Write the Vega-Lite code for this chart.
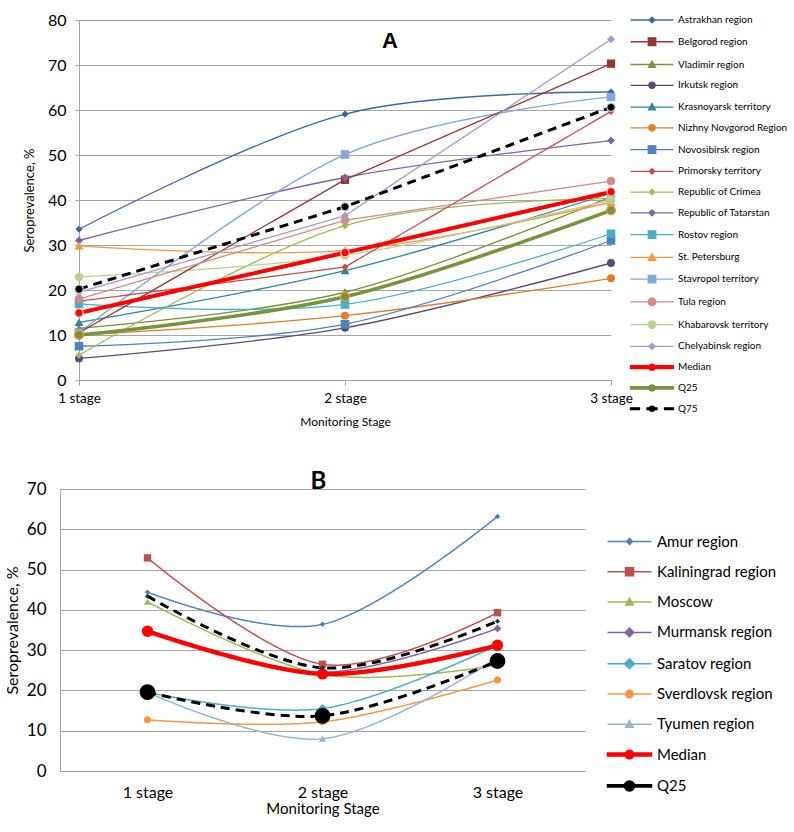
{
  "$schema": "https://vega.github.io/schema/vega-lite/v6.json",
  "background": "white",
  "padding": {"left": 4, "top": 12, "right": 5, "bottom": 5},
  "config": {
    "view": {"stroke": null},
    "font": "Lato",
    "axis": {"labelColor": "#000", "titleColor": "#000", "titleFontWeight": "normal", "domainColor": "#A6A6A6", "tickColor": "#A6A6A6", "gridColor": "#A6A6A6", "labelFont": "Lato", "titleFont": "Lato"}
  },
  "datasets": {
    "a": [
      {"series": "Astrakhan region", "stage": "1 stage", "value": 33.5},
      {"series": "Astrakhan region", "stage": "2  stage", "value": 59.1},
      {"series": "Astrakhan region", "stage": "3 stage", "value": 64.0},
      {"series": "Belgorod region", "stage": "1 stage", "value": 10.5},
      {"series": "Belgorod region", "stage": "2  stage", "value": 44.5},
      {"series": "Belgorod region", "stage": "3 stage", "value": 70.3},
      {"series": "Vladimir region", "stage": "1 stage", "value": 11.5},
      {"series": "Vladimir region", "stage": "2  stage", "value": 19.5},
      {"series": "Vladimir region", "stage": "3 stage", "value": 40.7},
      {"series": "Irkutsk region", "stage": "1 stage", "value": 4.8},
      {"series": "Irkutsk region", "stage": "2  stage", "value": 11.6},
      {"series": "Irkutsk region", "stage": "3 stage", "value": 26.0},
      {"series": "Krasnoyarsk territory", "stage": "1 stage", "value": 12.8},
      {"series": "Krasnoyarsk territory", "stage": "2  stage", "value": 24.3},
      {"series": "Krasnoyarsk territory", "stage": "3 stage", "value": 41.5},
      {"series": "Nizhny Novgorod Region", "stage": "1 stage", "value": 10.0},
      {"series": "Nizhny Novgorod Region", "stage": "2  stage", "value": 14.3},
      {"series": "Nizhny Novgorod Region", "stage": "3 stage", "value": 22.6},
      {"series": "Novosibirsk region", "stage": "1 stage", "value": 7.5},
      {"series": "Novosibirsk region", "stage": "2  stage", "value": 12.4},
      {"series": "Novosibirsk region", "stage": "3 stage", "value": 31.0},
      {"series": "Primorsky territory", "stage": "1 stage", "value": 17.5},
      {"series": "Primorsky territory", "stage": "2  stage", "value": 25.1},
      {"series": "Primorsky territory", "stage": "3 stage", "value": 59.7},
      {"series": "Republic of Crimea", "stage": "1 stage", "value": 5.5},
      {"series": "Republic of Crimea", "stage": "2  stage", "value": 34.3},
      {"series": "Republic of Crimea", "stage": "3 stage", "value": 40.3},
      {"series": "Republic of Tatarstan", "stage": "1 stage", "value": 31.0},
      {"series": "Republic of Tatarstan", "stage": "2  stage", "value": 45.0},
      {"series": "Republic of Tatarstan", "stage": "3 stage", "value": 53.2},
      {"series": "Rostov region", "stage": "1 stage", "value": 16.9},
      {"series": "Rostov region", "stage": "2  stage", "value": 16.8},
      {"series": "Rostov region", "stage": "3 stage", "value": 32.5},
      {"series": "St. Petersburg", "stage": "1 stage", "value": 29.8},
      {"series": "St. Petersburg", "stage": "2  stage", "value": 28.8},
      {"series": "St. Petersburg", "stage": "3 stage", "value": 39.5},
      {"series": "Stavropol territory", "stage": "1 stage", "value": 10.5},
      {"series": "Stavropol territory", "stage": "2  stage", "value": 50.1},
      {"series": "Stavropol territory", "stage": "3 stage", "value": 62.9},
      {"series": "Tula region", "stage": "1 stage", "value": 18.0},
      {"series": "Tula region", "stage": "2  stage", "value": 35.5},
      {"series": "Tula region", "stage": "3 stage", "value": 44.2},
      {"series": "Khabarovsk territory", "stage": "1 stage", "value": 22.9},
      {"series": "Khabarovsk territory", "stage": "2  stage", "value": 27.7},
      {"series": "Khabarovsk territory", "stage": "3 stage", "value": 40.0},
      {"series": "Chelyabinsk region", "stage": "1 stage", "value": 19.5},
      {"series": "Chelyabinsk region", "stage": "2  stage", "value": 36.5},
      {"series": "Chelyabinsk region", "stage": "3 stage", "value": 75.7},
      {"series": "Median", "stage": "1 stage", "value": 14.9},
      {"series": "Median", "stage": "2  stage", "value": 28.3},
      {"series": "Median", "stage": "3 stage", "value": 41.8},
      {"series": "Q25", "stage": "1 stage", "value": 10.0},
      {"series": "Q25", "stage": "2  stage", "value": 18.5},
      {"series": "Q25", "stage": "3 stage", "value": 37.7},
      {"series": "Q75", "stage": "1 stage", "value": 20.2},
      {"series": "Q75", "stage": "2  stage", "value": 38.5},
      {"series": "Q75", "stage": "3 stage", "value": 60.6}
    ],
    "b": [
      {"series": "Amur region", "stage": "1 stage", "value": 44.4},
      {"series": "Amur region", "stage": "2 stage", "value": 36.4},
      {"series": "Amur region", "stage": "3 stage", "value": 63.2},
      {"series": "Kaliningrad region", "stage": "1 stage", "value": 52.9},
      {"series": "Kaliningrad region", "stage": "2 stage", "value": 26.5},
      {"series": "Kaliningrad region", "stage": "3 stage", "value": 39.3},
      {"series": "Moscow", "stage": "1 stage", "value": 42.0},
      {"series": "Moscow", "stage": "2 stage", "value": 24.0},
      {"series": "Moscow", "stage": "3 stage", "value": 26.3},
      {"series": "Murmansk region", "stage": "1 stage", "value": 34.8},
      {"series": "Murmansk region", "stage": "2 stage", "value": 24.5},
      {"series": "Murmansk region", "stage": "3 stage", "value": 35.4},
      {"series": "Saratov region", "stage": "1 stage", "value": 19.5},
      {"series": "Saratov region", "stage": "2 stage", "value": 15.5},
      {"series": "Saratov region", "stage": "3 stage", "value": 31.2},
      {"series": "Sverdlovsk region", "stage": "1 stage", "value": 12.7},
      {"series": "Sverdlovsk region", "stage": "2 stage", "value": 12.2},
      {"series": "Sverdlovsk region", "stage": "3 stage", "value": 22.6},
      {"series": "Tyumen region", "stage": "1 stage", "value": 19.5},
      {"series": "Tyumen region", "stage": "2 stage", "value": 8.0},
      {"series": "Tyumen region", "stage": "3 stage", "value": 28.0},
      {"series": "Median", "stage": "1 stage", "value": 34.7},
      {"series": "Median", "stage": "2 stage", "value": 24.1},
      {"series": "Median", "stage": "3 stage", "value": 31.2},
      {"series": "Q25", "stage": "1 stage", "value": 19.6},
      {"series": "Q25", "stage": "2 stage", "value": 13.7},
      {"series": "Q25", "stage": "3 stage", "value": 27.3},
      {"series": "Q75", "stage": "1 stage", "value": 43.4},
      {"series": "Q75", "stage": "2 stage", "value": 25.6},
      {"series": "Q75", "stage": "3 stage", "value": 37.2}
    ]
  },
  "columns": 1,
  "center": true,
  "spacing": 42,
  "concat": [
    {
      "width": 532,
      "height": 360,
      "data": {"name": "a"},
      "title": {"text": "A", "font": "Liberation Sans", "fontSize": 22, "fontWeight": "bold", "color": "#000", "frame": "group", "offset": -41, "dx": 45, "anchor": "middle"},
      "encoding": {
        "x": {"field": "stage", "type": "ordinal", "sort": ["1 stage", "2  stage", "3 stage"], "scale": {"type": "point", "padding": 0},
          "axis": {"title": "Monitoring Stage", "labelAngle": 0, "labelFontSize": 13.5, "titleFontSize": 12, "ticks": true, "tickSize": 5, "labelPadding": 6, "titlePadding": 12, "grid": false}},
        "y": {"field": "value", "type": "quantitative", "scale": {"domain": [0, 80]},
          "axis": {"title": [" ", "Seroprevalence, %"], "values": [0, 10, 20, 30, 40, 50, 60, 70, 80], "tickSize": 4, "labelFontSize": 16, "labelPadding": 9, "titleFontSize": 13, "titlePadding": 11, "titleLineHeight": 17, "grid": true, "gridWidth": 1.2}}
      },
      "layer": [
        {
          "transform": [{"filter": {"not": {"field": "series", "oneOf": ["Belgorod region", "Primorsky territory", "Chelyabinsk region", "Tula region", "Median", "Q75"]}}}],
          "mark": {"type": "line", "interpolate": "cardinal"},
          "encoding": {
            "color": {"field": "series", "type": "nominal", "legend": null, "scale": {"domain": ["Astrakhan region","Belgorod region","Vladimir region","Irkutsk region","Krasnoyarsk territory","Nizhny Novgorod Region","Novosibirsk region","Primorsky territory","Republic of Crimea","Republic of Tatarstan","Rostov region","St. Petersburg","Stavropol territory","Tula region","Khabarovsk territory","Chelyabinsk region","Median","Q25","Q75"], "range": ["#3C679D","#953735","#77933C","#5F497A","#31859C","#DB7F2E","#4F81BD","#C0504D","#9BBB59","#8064A2","#4BACC6","#F79646","#86A8D8","#D48A88","#B9D38F","#A898CA","#FF0000","#77933C","#000000"]}},
            "strokeWidth": {"field": "series", "type": "nominal", "legend": null, "scale": {"type": "ordinal", "domain": ["Astrakhan region","Belgorod region","Vladimir region","Irkutsk region","Krasnoyarsk territory","Nizhny Novgorod Region","Novosibirsk region","Primorsky territory","Republic of Crimea","Republic of Tatarstan","Rostov region","St. Petersburg","Stavropol territory","Tula region","Khabarovsk territory","Chelyabinsk region","Median","Q25","Q75"], "range": [1.3,1.3,1.3,1.3,1.3,1.3,1.3,1.3,1.3,1.3,1.3,1.3,1.3,1.3,1.3,1.3,4,3.5,3]}}
          }
        },
        {
          "transform": [{"filter": {"field": "series", "oneOf": ["Belgorod region", "Primorsky territory", "Chelyabinsk region", "Tula region", "Median", "Q75"]}}],
          "mark": {"type": "line", "interpolate": "linear"},
          "encoding": {
            "color": {"field": "series", "type": "nominal", "legend": null, "scale": {"domain": ["Astrakhan region","Belgorod region","Vladimir region","Irkutsk region","Krasnoyarsk territory","Nizhny Novgorod Region","Novosibirsk region","Primorsky territory","Republic of Crimea","Republic of Tatarstan","Rostov region","St. Petersburg","Stavropol territory","Tula region","Khabarovsk territory","Chelyabinsk region","Median","Q25","Q75"], "range": ["#3C679D","#953735","#77933C","#5F497A","#31859C","#DB7F2E","#4F81BD","#C0504D","#9BBB59","#8064A2","#4BACC6","#F79646","#86A8D8","#D48A88","#B9D38F","#A898CA","#FF0000","#77933C","#000000"]}},
            "strokeWidth": {"field": "series", "type": "nominal", "legend": null, "scale": {"type": "ordinal", "domain": ["Astrakhan region","Belgorod region","Vladimir region","Irkutsk region","Krasnoyarsk territory","Nizhny Novgorod Region","Novosibirsk region","Primorsky territory","Republic of Crimea","Republic of Tatarstan","Rostov region","St. Petersburg","Stavropol territory","Tula region","Khabarovsk territory","Chelyabinsk region","Median","Q25","Q75"], "range": [1.3,1.3,1.3,1.3,1.3,1.3,1.3,1.3,1.3,1.3,1.3,1.3,1.3,1.3,1.3,1.3,4,3.5,3]}},
            "strokeDash": {"field": "series", "type": "nominal", "legend": null, "scale": {"domain": ["Astrakhan region","Belgorod region","Vladimir region","Irkutsk region","Krasnoyarsk territory","Nizhny Novgorod Region","Novosibirsk region","Primorsky territory","Republic of Crimea","Republic of Tatarstan","Rostov region","St. Petersburg","Stavropol territory","Tula region","Khabarovsk territory","Chelyabinsk region","Median","Q25","Q75"], "range": [[1,0],[1,0],[1,0],[1,0],[1,0],[1,0],[1,0],[1,0],[1,0],[1,0],[1,0],[1,0],[1,0],[1,0],[1,0],[1,0],[1,0],[1,0],[9,6]]}}
          }
        },
        {
          "mark": {"type": "point", "filled": true, "opacity": 1, "strokeWidth": 1.2},
          "encoding": {
            "color": {"field": "series", "type": "nominal", "legend": null, "scale": {"domain": ["Astrakhan region","Belgorod region","Vladimir region","Irkutsk region","Krasnoyarsk territory","Nizhny Novgorod Region","Novosibirsk region","Primorsky territory","Republic of Crimea","Republic of Tatarstan","Rostov region","St. Petersburg","Stavropol territory","Tula region","Khabarovsk territory","Chelyabinsk region","Median","Q25","Q75"], "range": ["#3C679D","#953735","#77933C","#5F497A","#31859C","#DB7F2E","#4F81BD","#C0504D","#9BBB59","#8064A2","#4BACC6","#F79646","#86A8D8","#D48A88","#B9D38F","#A898CA","#FF0000","#77933C","#000000"]}},
            "stroke": {"field": "series", "type": "nominal", "legend": null, "scale": {"domain": ["Astrakhan region","Belgorod region","Vladimir region","Irkutsk region","Krasnoyarsk territory","Nizhny Novgorod Region","Novosibirsk region","Primorsky territory","Republic of Crimea","Republic of Tatarstan","Rostov region","St. Petersburg","Stavropol territory","Tula region","Khabarovsk territory","Chelyabinsk region","Median","Q25","Q75"], "range": ["#3C679D","#953735","#77933C","#5F497A","#31859C","#DB7F2E","#4F81BD","#C0504D","#9BBB59","#8064A2","#4BACC6","#F79646","#86A8D8","#D48A88","#B9D38F","#A898CA","#F4C0C0","#F79646","#C6D9F1"]}},
            "shape": {"field": "series", "type": "nominal", "legend": null, "scale": {"domain": ["Astrakhan region","Belgorod region","Vladimir region","Irkutsk region","Krasnoyarsk territory","Nizhny Novgorod Region","Novosibirsk region","Primorsky territory","Republic of Crimea","Republic of Tatarstan","Rostov region","St. Petersburg","Stavropol territory","Tula region","Khabarovsk territory","Chelyabinsk region","Median","Q25","Q75"], "range": ["diamond","square","triangle-up","circle","triangle-up","circle","square","diamond","diamond","diamond","square","triangle-up","square","circle","circle","diamond","circle","circle","circle"]}},
            "size": {"field": "series", "type": "nominal", "legend": null, "scale": {"type": "ordinal", "domain": ["Astrakhan region","Belgorod region","Vladimir region","Irkutsk region","Krasnoyarsk territory","Nizhny Novgorod Region","Novosibirsk region","Primorsky territory","Republic of Crimea","Republic of Tatarstan","Rostov region","St. Petersburg","Stavropol territory","Tula region","Khabarovsk territory","Chelyabinsk region","Median","Q25","Q75"], "range": [30,50,45,45,45,45,55,30,30,40,55,50,55,55,55,40,70,80,70]}}
          }
        },
        {
          "transform": [{"filter": "false"}],
          "mark": {"type": "point", "filled": true, "opacity": 1, "strokeWidth": 1.3},
          "encoding": {
            "color": {"field": "series", "type": "nominal",
              "legend": {"title": null, "orient": "none", "legendX": 567, "legendY": -6, "labelFont": "Lato", "labelFontSize": 10, "labelColor": "#000", "labelOffset": 20, "rowPadding": 8.76, "symbolSize": 100, "symbolStrokeWidth": 1.3, "labelLimit": 200},
              "scale": {"domain": ["Astrakhan region","Belgorod region","Vladimir region","Irkutsk region","Krasnoyarsk territory","Nizhny Novgorod Region","Novosibirsk region","Primorsky territory","Republic of Crimea","Republic of Tatarstan","Rostov region","St. Petersburg","Stavropol territory","Tula region","Khabarovsk territory","Chelyabinsk region","Median","Q25","Q75"], "range": ["#3C679D","#953735","#77933C","#5F497A","#31859C","#DB7F2E","#4F81BD","#C0504D","#9BBB59","#8064A2","#4BACC6","#F79646","#86A8D8","#D48A88","#B9D38F","#A898CA","#FF0000","#77933C","#000000"]}},
            "stroke": {"field": "series", "type": "nominal", "legend": {"title": null}, "scale": {"domain": ["Astrakhan region","Belgorod region","Vladimir region","Irkutsk region","Krasnoyarsk territory","Nizhny Novgorod Region","Novosibirsk region","Primorsky territory","Republic of Crimea","Republic of Tatarstan","Rostov region","St. Petersburg","Stavropol territory","Tula region","Khabarovsk territory","Chelyabinsk region","Median","Q25","Q75"], "range": ["#3C679D","#953735","#77933C","#5F497A","#31859C","#DB7F2E","#4F81BD","#C0504D","#9BBB59","#8064A2","#4BACC6","#F79646","#86A8D8","#D48A88","#B9D38F","#A898CA","#FF0000","#77933C","#000000"]}},
            "shape": {"field": "series", "type": "nominal", "legend": {"title": null}, "scale": {"domain": ["Astrakhan region","Belgorod region","Vladimir region","Irkutsk region","Krasnoyarsk territory","Nizhny Novgorod Region","Novosibirsk region","Primorsky territory","Republic of Crimea","Republic of Tatarstan","Rostov region","St. Petersburg","Stavropol territory","Tula region","Khabarovsk territory","Chelyabinsk region","Median","Q25","Q75"], "range": [
              "M-4.3,0H4.3M0,-0.55L0.55,0L0,0.55L-0.55,0Z",
              "M-4.3,0H4.3M-0.75,-0.75H0.75V0.75H-0.75Z",
              "M-4.3,0H4.3M0,-0.7L0.7,0.56L-0.7,0.56Z",
              "M-4.3,0H4.3M0.65,0A0.65,0.65,0,1,1,-0.65,0A0.65,0.65,0,1,1,0.65,0Z",
              "M-4.3,0H4.3M0,-0.7L0.7,0.56L-0.7,0.56Z",
              "M-4.3,0H4.3M0.65,0A0.65,0.65,0,1,1,-0.65,0A0.65,0.65,0,1,1,0.65,0Z",
              "M-4.3,0H4.3M-0.75,-0.75H0.75V0.75H-0.75Z",
              "M-4.3,0H4.3M0,-0.55L0.55,0L0,0.55L-0.55,0Z",
              "M-4.3,0H4.3M0,-0.55L0.55,0L0,0.55L-0.55,0Z",
              "M-4.3,0H4.3M0,-0.6L0.6,0L0,0.6L-0.6,0Z",
              "M-4.3,0H4.3M-0.75,-0.75H0.75V0.75H-0.75Z",
              "M-4.3,0H4.3M0,-0.75L0.75,0.6L-0.75,0.6Z",
              "M-4.3,0H4.3M-0.75,-0.75H0.75V0.75H-0.75Z",
              "M-4.3,0H4.3M0.75,0A0.75,0.75,0,1,1,-0.75,0A0.75,0.75,0,1,1,0.75,0Z",
              "M-4.3,0H4.3M0.75,0A0.75,0.75,0,1,1,-0.75,0A0.75,0.75,0,1,1,0.75,0Z",
              "M-4.3,0H4.3M0,-0.6L0.6,0L0,0.6L-0.6,0Z",
              "M-4.3,-0.28H4.3V0.28H-4.3ZM0.6,0A0.6,0.6,0,1,1,-0.6,0A0.6,0.6,0,1,1,0.6,0Z",
              "M-4.3,-0.23H4.3V0.23H-4.3ZM0.6,0A0.6,0.6,0,1,1,-0.6,0A0.6,0.6,0,1,1,0.6,0Z",
              "M-4.3,-0.17H-2.5V0.17H-4.3ZM-1,-0.17H1V0.17H-1ZM2.5,-0.17H4.3V0.17H2.5ZM0.5,0A0.5,0.5,0,1,1,-0.5,0A0.5,0.5,0,1,1,0.5,0Z"
            ]}}
          }
        }
      ],
      "resolve": {
        "scale": {"color": "independent", "stroke": "independent", "shape": "independent", "size": "independent", "strokeWidth": "independent", "strokeDash": "independent"},
        "legend": {"color": "independent", "stroke": "independent", "shape": "independent", "size": "independent", "strokeWidth": "independent", "strokeDash": "independent"}
      }
    },
    {
      "width": 525,
      "height": 282,
      "data": {"name": "b"},
      "title": {"text": "B", "font": "Lato", "fontSize": 24, "fontWeight": "bold", "color": "#000", "frame": "group", "offset": -14, "dx": -4, "anchor": "middle"},
      "encoding": {
        "x": {"field": "stage", "type": "ordinal", "sort": ["1 stage", "2 stage", "3 stage"], "scale": {"type": "point", "padding": 0.5},
          "axis": {"title": "Monitoring Stage", "labelAngle": 0, "labelFontSize": 16, "titleFontSize": 15, "ticks": false, "labelPadding": 13, "titlePadding": 1, "grid": false}},
        "y": {"field": "value", "type": "quantitative", "scale": {"domain": [0, 70]},
          "axis": {"title": "Seroprevalence, %", "values": [0, 10, 20, 30, 40, 50, 60, 70], "ticks": false, "labelFontSize": 17, "labelPadding": 14, "titleFontSize": 16, "titlePadding": 6, "grid": true, "gridWidth": 1.2}}
      },
      "layer": [
        {
          "mark": {"type": "line", "interpolate": "cardinal"},
          "encoding": {
            "color": {"field": "series", "type": "nominal", "legend": null, "scale": {"domain": ["Amur region","Kaliningrad region","Moscow","Murmansk region","Saratov region","Sverdlovsk region","Tyumen region","Median","Q25","Q75"], "range": ["#4F81BD","#C0504D","#9BBB59","#8064A2","#4BACC6","#F79646","#95B3D7","#FF0000","#000000","#000000"]}},
            "strokeWidth": {"field": "series", "type": "nominal", "legend": null, "scale": {"type": "ordinal", "domain": ["Amur region","Kaliningrad region","Moscow","Murmansk region","Saratov region","Sverdlovsk region","Tyumen region","Median","Q25","Q75"], "range": [1.5,1.5,1.5,1.5,1.5,1.5,1.5,4.5,3,3]}},
            "strokeDash": {"field": "series", "type": "nominal", "legend": null, "scale": {"domain": ["Amur region","Kaliningrad region","Moscow","Murmansk region","Saratov region","Sverdlovsk region","Tyumen region","Median","Q25","Q75"], "range": [[1,0],[1,0],[1,0],[1,0],[1,0],[1,0],[1,0],[1,0],[9,6],[9,6]]}}
          }
        },
        {
          "mark": {"type": "point", "filled": true, "opacity": 1},
          "encoding": {
            "color": {"field": "series", "type": "nominal", "legend": null, "scale": {"domain": ["Amur region","Kaliningrad region","Moscow","Murmansk region","Saratov region","Sverdlovsk region","Tyumen region","Median","Q25","Q75"], "range": ["#4F81BD","#C0504D","#9BBB59","#8064A2","#4BACC6","#F79646","#95B3D7","#FF0000","#000000","#1F2A44"]}},
            "shape": {"field": "series", "type": "nominal", "legend": null, "scale": {"domain": ["Amur region","Kaliningrad region","Moscow","Murmansk region","Saratov region","Sverdlovsk region","Tyumen region","Median","Q25","Q75"], "range": ["diamond","square","triangle-up","diamond","diamond","circle","triangle-up","circle","circle","diamond"]}},
            "size": {"field": "series", "type": "nominal", "legend": null, "scale": {"type": "ordinal", "domain": ["Amur region","Kaliningrad region","Moscow","Murmansk region","Saratov region","Sverdlovsk region","Tyumen region","Median","Q25","Q75"], "range": [30,55,50,60,80,50,50,130,250,25]}}
          }
        },
        {
          "transform": [{"filter": "false"}],
          "mark": {"type": "point", "filled": true, "opacity": 1, "strokeWidth": 1.5},
          "encoding": {
            "color": {"field": "series", "type": "nominal",
              "legend": {"title": null, "orient": "none", "legendX": 532, "legendY": 15, "padding": 30, "labelFont": "Lato", "labelFontSize": 15, "labelColor": "#000", "labelOffset": 20, "rowPadding": 14.3, "symbolSize": 100, "symbolStrokeWidth": 1.5, "labelLimit": 200},
              "scale": {"domain": ["Amur region","Kaliningrad region","Moscow","Murmansk region","Saratov region","Sverdlovsk region","Tyumen region","Median","Q25"], "range": ["#4F81BD","#C0504D","#9BBB59","#8064A2","#4BACC6","#F79646","#95B3D7","#FF0000","#000000"]}},
            "stroke": {"field": "series", "type": "nominal", "legend": {"title": null}, "scale": {"domain": ["Amur region","Kaliningrad region","Moscow","Murmansk region","Saratov region","Sverdlovsk region","Tyumen region","Median","Q25"], "range": ["#4F81BD","#C0504D","#9BBB59","#8064A2","#4BACC6","#F79646","#95B3D7","#FF0000","#000000"]}},
            "shape": {"field": "series", "type": "nominal", "legend": {"title": null}, "scale": {"domain": ["Amur region","Kaliningrad region","Moscow","Murmansk region","Saratov region","Sverdlovsk region","Tyumen region","Median","Q25"], "range": [
              "M-4.4,0H4.4M0,-0.6L0.6,0L0,0.6L-0.6,0Z",
              "M-4.4,0H4.4M-0.8,-0.8H0.8V0.8H-0.8Z",
              "M-4.4,0H4.4M0,-0.75L0.75,0.6L-0.75,0.6Z",
              "M-4.4,0H4.4M0,-0.85L0.85,0L0,0.85L-0.85,0Z",
              "M-4.4,0H4.4M0,-1L1,0L0,1L-1,0Z",
              "M-4.4,0H4.4M0.75,0A0.75,0.75,0,1,1,-0.75,0A0.75,0.75,0,1,1,0.75,0Z",
              "M-4.4,0H4.4M0,-0.75L0.75,0.6L-0.75,0.6Z",
              "M-4.4,-0.3H4.4V0.3H-4.4ZM0.85,0A0.85,0.85,0,1,1,-0.85,0A0.85,0.85,0,1,1,0.85,0Z",
              "M-4.4,-0.22H4.4V0.22H-4.4ZM1,0A1,1,0,1,1,-1,0A1,1,0,1,1,1,0Z"
            ]}}
          }
        }
      ],
      "resolve": {
        "scale": {"color": "independent", "stroke": "independent", "shape": "independent", "size": "independent", "strokeWidth": "independent", "strokeDash": "independent"},
        "legend": {"color": "independent", "stroke": "independent", "shape": "independent", "size": "independent", "strokeWidth": "independent", "strokeDash": "independent"}
      }
    }
  ]
}
